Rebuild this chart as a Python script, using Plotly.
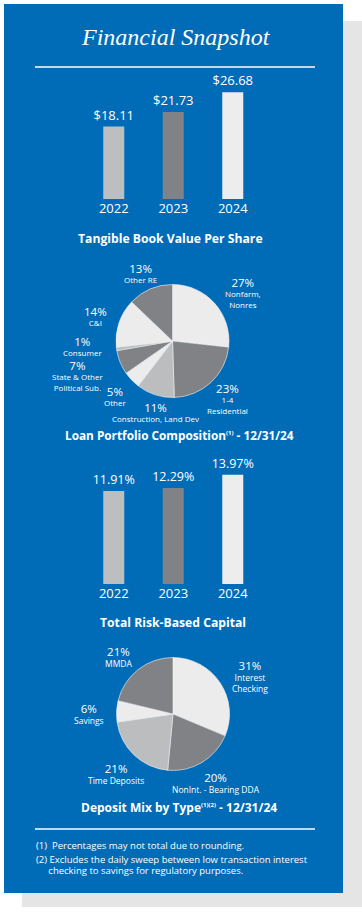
import plotly.graph_objects as go

W, H = 362, 913

# ---------------- data ----------------
years = ["2022", "2023", "2024"]
tbv_values = [18.11, 21.73, 26.68]
tbv_labels = ["$18.11", "$21.73", "$26.68"]
trbc_values = [11.91, 12.29, 13.97]
trbc_labels = ["11.91%", "12.29%", "13.97%"]

loan_names = ["Nonfarm,<br>Nonres", "1-4<br>Residential", "Construction, Land Dev", "Other",
              "State & Other<br>Political Sub.", "Consumer", "C&I", "Other RE"]
loan_pct = [27, 23, 11, 5, 7, 1, 14, 13]

dep_names = ["Interest<br>Checking", "NonInt. - Bearing DDA", "Time Deposits", "Savings", "MMDA"]
dep_pct = [31, 20, 21, 6, 21]

# ---------------- styles ----------------
BLUE = "#006cb7"
SHADOW = "#e5e5e5"
BAR_COLORS = ["#bcbec0", "#808285", "#ededed"]
PIE_CYCLE = ["#ececec", "#818285", "#bcbdbf"]
FONT = "Open Sans"

# label block positions (pixel centres)
loan_label_pos = [(243, 292), (228, 399), (155, 412), (115, 396),
                  (77, 375.5), (82, 346), (95, 315.5), (140, 272.5)]
dep_label_pos = [(250, 675.5), (216, 782), (116, 773), (89, 713.5), (118, 656.5)]


def px(x):
    return x / W


def py(y):
    return 1 - y / H


fig = go.Figure()

# bar chart 1
fig.add_trace(go.Bar(
    x=years, y=tbv_values, text=tbv_labels, textposition="outside", constraintext="none",
    textfont=dict(color="white", size=13, family=FONT),
    marker=dict(color=BAR_COLORS, line=dict(width=0)),
    cliponaxis=False, xaxis="x", yaxis="y", hoverinfo="skip"))

# bar chart 2
fig.add_trace(go.Bar(
    x=years, y=trbc_values, text=trbc_labels, textposition="outside", constraintext="none",
    textfont=dict(color="white", size=12.5, family=FONT),
    marker=dict(color=BAR_COLORS, line=dict(width=0)),
    cliponaxis=False, xaxis="x2", yaxis="y2", hoverinfo="skip"))

# pies
loan_colors = [PIE_CYCLE[i % 3] for i in range(len(loan_pct))]
fig.add_trace(go.Pie(
    values=loan_pct, labels=[n.replace("<br>", " ") for n in loan_names],
    sort=False, direction="clockwise", rotation=0,
    textinfo="none", hoverinfo="skip", showlegend=False,
    marker=dict(colors=loan_colors, line=dict(color="#f4f4f4", width=0.6)),
    domain=dict(x=[px(116), px(229)], y=[py(397.5), py(284.5)])))

dep_colors = [PIE_CYCLE[i % 3] for i in range(len(dep_pct))]
fig.add_trace(go.Pie(
    values=dep_pct, labels=[n.replace("<br>", " ") for n in dep_names],
    sort=False, direction="clockwise", rotation=0,
    textinfo="none", hoverinfo="skip", showlegend=False,
    marker=dict(colors=dep_colors, line=dict(color="#f4f4f4", width=0.6)),
    domain=dict(x=[px(116.5), px(229.5)], y=[py(770.5), py(657.5)])))

annotations = []


def note(text, x, y, size, weight="normal", xanchor="center", yanchor="middle"):
    annotations.append(dict(
        text=text, x=px(x), y=py(y), xref="paper", yref="paper",
        xanchor=xanchor, yanchor=yanchor, showarrow=False, borderpad=0,
        align="center" if xanchor == "center" else "left",
        font=dict(color="white", size=size, family=FONT, weight=weight)))


# title
annotations.append(dict(
    text="Financial Snapshot", x=px(176), y=py(37), xref="paper", yref="paper",
    showarrow=False, xanchor="center", yanchor="middle",
    font=dict(color="white", size=24, family="Liberation Serif", style="italic")))

PCT = "<span style='font-size:11.5px'>{}%</span><br>{}"
for name, pct, (x, y) in zip(loan_names, loan_pct, loan_label_pos):
    note(PCT.format(pct, name), x, y, 8)

for name, pct, (x, y) in zip(dep_names, dep_pct, dep_label_pos):
    note(PCT.format(pct, name), x, y, 8.5)

SUP = "<sup><span style='font-size:6px'>{}</span></sup>"
note("Tangible Book Value Per Share", 170, 238, 12.2, weight="bold")
note("Loan Portfolio Composition" + SUP.format("(1)") + " - 12/31/24", 179.5, 435, 11.8, weight="bold")
note("Total Risk-Based Capital", 173, 622, 12.2, weight="bold")
note("Deposit Mix by Type" + SUP.format("(1)(2)") + " - 12/31/24", 179, 807, 12, weight="bold")

FN = "<span style='font-size:9.5px'>{}</span>"
note(FN.format("(1)\u00a0 Percentages may not total due to rounding."), 35, 845, 7.7, xanchor="left")
note(FN.format("(2) Excludes the daily sweep between low transaction interest") + "<br>"
     + FN.format("\u00a0\u00a0\u00a0\u00a0\u00a0checking to savings for regulatory purposes."),
     35, 864.5, 8.2, xanchor="left")

shapes = [
    dict(type="rect", xref="paper", yref="paper", x0=px(22), x1=px(362), y0=py(907), y1=py(21),
         fillcolor=SHADOW, line=dict(width=0), layer="below"),
    dict(type="rect", xref="paper", yref="paper", x0=px(4), x1=px(343), y0=py(893), y1=py(4),
         fillcolor=BLUE, line=dict(width=0), layer="below"),
    dict(type="line", xref="paper", yref="paper", x0=px(35), x1=px(315), y0=py(67), y1=py(67),
         line=dict(color="white", width=1.5)),
    dict(type="line", xref="paper", yref="paper", x0=px(35), x1=px(315), y0=py(829), y1=py(829),
         line=dict(color="white", width=1.5)),
]

xcommon = dict(type="category", range=[-0.5, 2.5], showgrid=False, zeroline=False, showline=False,
               ticks="", tickfont=dict(color="white", size=13, family=FONT), fixedrange=True)
ycommon = dict(visible=False, showgrid=False, zeroline=False, fixedrange=True)

fig.update_layout(
    width=W, height=H, margin=dict(l=0, r=0, t=0, b=0),
    paper_bgcolor="white", plot_bgcolor="rgba(0,0,0,0)",
    showlegend=False, bargap=0.647,
    xaxis=dict(domain=[px(84), px(262.5)], anchor="y", **xcommon),
    yaxis=dict(domain=[py(199), py(79)], range=[0, 30], anchor="x", **ycommon),
    xaxis2=dict(domain=[px(84), px(262.5)], anchor="y2", **xcommon),
    yaxis2=dict(domain=[py(584), py(459)], range=[0, 16], anchor="x2", **ycommon),
    shapes=shapes, annotations=annotations,
)

fig.write_html(
    "out.html",
    config={"displayModeBar": False},
    post_script="document.body.style.margin='0';document.body.style.overflow='hidden';",
)
